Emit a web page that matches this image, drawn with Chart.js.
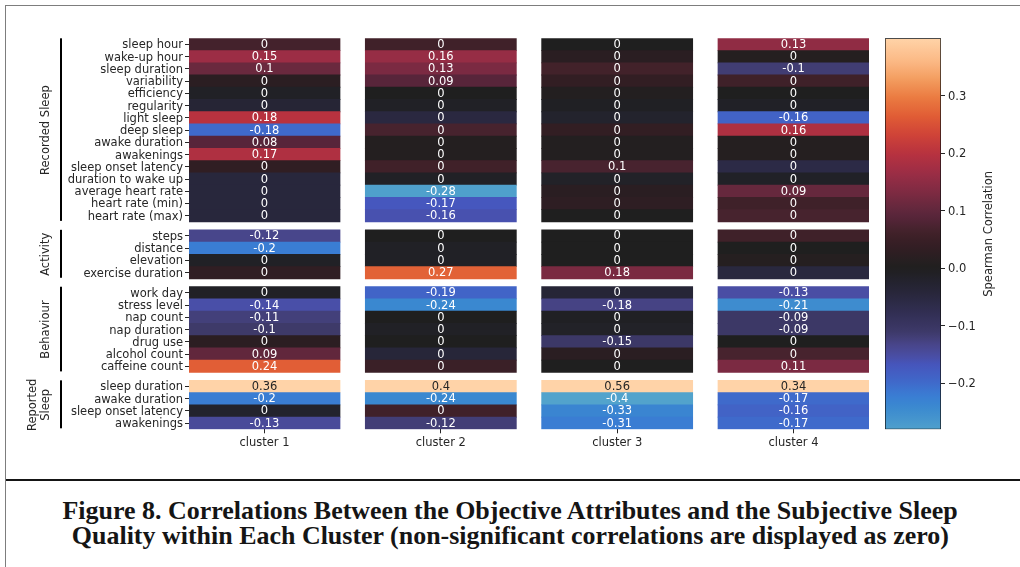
<!DOCTYPE html>
<html>
<head>
<meta charset="utf-8">
<script src="https://cdn.jsdelivr.net/npm/chart.js@4.4.1/dist/chart.umd.min.js"></script>
<style>
  html, body { margin: 0; padding: 0; background: #fff; }
  body { width: 1020px; height: 567px; position: relative; overflow: hidden; font-family: 'DejaVu Sans', sans-serif; }
  #frame { position: absolute; left: 5px; top: 5px; width: 1030px; height: 580px;
           border-top: 1.5px solid #7d7d7d; border-left: 1.5px solid #7d7d7d; }
  #rule { position: absolute; left: 6px; top: 479px; width: 1014px; height: 2px; background: #151515; }
  #heat { position: absolute; left: 0; top: 0; }
  #cbar { position: absolute; left: 860px; top: 0; }
  #caption { position: absolute; left: 0; top: 499px; width: 1020px; text-align: center;
             font: bold 25px 'Liberation Serif', serif; line-height: 24.5px; color: #151515; }
  #caption span { display: inline-block; white-space: nowrap; transform-origin: 50% 50%; }
</style>
</head>
<body>
<div id="frame"></div>
<canvas id="heat" width="880" height="470"></canvas>
<canvas id="cbar" width="160" height="470"></canvas>
<div id="rule"></div>
<div id="caption">
  <span id="cap1">Figure 8. Correlations Between the Objective Attributes and the Subjective Sleep</span><br>
  <span id="cap2">Quality within Each Cluster (non-significant correlations are displayed as zero)</span>
</div>
<script>
// ---- attributes (rows), grouped ----
const rowNames = [
  'sleep hour', 'wake-up hour', 'sleep duration', 'variability', 'efficiency', 'regularity',
  'light sleep', 'deep sleep', 'awake duration', 'awakenings', 'sleep onset latency',
  'duration to wake up', 'average heart rate', 'heart rate (min)', 'heart rate (max)',
  'steps', 'distance', 'elevation', 'exercise duration',
  'work day', 'stress level', 'nap count', 'nap duration', 'drug use', 'alcohol count', 'caffeine count',
  'sleep duration', 'awake duration', 'sleep onset latency', 'awakenings'
];
const groupLabels = [['Recorded Sleep'], ['Activity'], ['Behaviour'], ['Reported', 'Sleep']];
const groupSizes = [15, 4, 7, 4];
const clusters = ['cluster 1', 'cluster 2', 'cluster 3', 'cluster 4'];

// ---- Spearman correlation with subjective sleep quality, per cluster ----
const rho1 = [0.06, 0.15, 0.10, 0.02, -0.01, -0.03, 0.18, -0.18, 0.08, 0.17, 0.03, -0.04, -0.04, -0.04, -0.04,
              -0.12, -0.20, -0.01, 0.03,
              -0.01, -0.14, -0.11, -0.10, 0.02, 0.09, 0.24,
              0.36, -0.20, -0.02, -0.13];
const rho2 = [0.06, 0.16, 0.13, 0.09, 0.00, -0.01, -0.05, 0.07, 0.01, 0.01, 0.06, -0.01, -0.28, -0.17, -0.16,
              0.00, -0.01, -0.01, 0.27,
              -0.19, -0.24, 0.00, -0.01, 0.00, -0.04, 0.05,
              0.40, -0.24, 0.06, -0.12];
const rho3 = [0.00, 0.03, 0.09, 0.05, 0.01, -0.01, -0.03, 0.05, 0.01, 0.01, 0.10, -0.02, 0.03, 0.04, 0.00,
              0.00, 0.00, 0.00, 0.18,
              -0.05, -0.18, -0.01, -0.02, -0.15, 0.03, 0.00,
              0.56, -0.40, -0.33, -0.31];
const rho4 = [0.13, 0.01, -0.10, 0.05, 0.00, -0.01, -0.16, 0.16, 0.01, 0.01, -0.05, -0.01, 0.09, 0.05, 0.06,
              0.05, 0.00, 0.01, -0.04,
              -0.13, -0.21, -0.09, -0.09, 0.00, 0.06, 0.11,
              0.34, -0.17, -0.16, -0.17];
// 1 = significant correlation (annotated), 0 = annotated as zero
const sig1 = [0,1,1,0,0,0,1,1,1,1,0,0,0,0,0, 1,1,0,0, 0,1,1,1,0,1,1, 1,1,0,1];
const sig2 = [0,1,1,1,0,0,0,0,0,0,0,0,1,1,1, 0,0,0,1, 1,1,0,0,0,0,0, 1,1,0,1];
const sig3 = [0,0,0,0,0,0,0,0,0,0,1,0,0,0,0, 0,0,0,1, 0,1,0,0,1,0,0, 1,1,1,1];
const sig4 = [1,0,1,0,0,0,1,1,0,0,0,0,1,0,0, 0,0,0,0, 1,1,1,1,0,0,1, 1,1,1,1];
// colour bar ticks
const cbarTicks = [-0.2, -0.1, 0.0, 0.1, 0.2, 0.3];

const clusterRho = [rho1, rho2, rho3, rho4];
const clusterSig = [sig1, sig2, sig3, sig4];
const cbarCluster = 1;   // the colour bar shows the scale of cluster 2

const FONT = "11.5px 'DejaVu Sans', sans-serif";

// ---- diverging ice/fire colour map ----
const CMAP = [
  [0.000, '#bfe8dc'], [0.080, '#86cbd8'], [0.143, '#52a3cc'], [0.200, '#3a88d0'],
  [0.225, '#3a7cd3'], [0.250, '#3f6acb'], [0.290, '#4656bd'], [0.310, '#4a4da2'],
  [0.335, '#484589'], [0.360, '#3e3a6a'], [0.400, '#322f55'], [0.450, '#272639'],
  [0.500, '#1f1f1f'], [0.550, '#341e24'], [0.580, '#42222a'], [0.610, '#56253a'],
  [0.640, '#6b293e'], [0.670, '#812b43'], [0.710, '#9d2d45'], [0.750, '#b8323f'],
  [0.790, '#cf4338'], [0.830, '#e05c35'], [0.870, '#ea7a40'], [0.910, '#f39c5e'],
  [0.950, '#fbb985'], [1.000, '#ffd3a8']
];
const hexRgb = h => [1, 3, 5].map(i => parseInt(h.slice(i, i + 2), 16));
function cmapRgb(t) {
  t = Math.max(0, Math.min(1, t));
  for (let i = 1; i < CMAP.length; i++) {
    if (t <= CMAP[i][0]) {
      const [t0, c0] = CMAP[i - 1], [t1, c1] = CMAP[i];
      const f = (t - t0) / (t1 - t0), a = hexRgb(c0), b = hexRgb(c1);
      return a.map((v, j) => Math.round(v + (b[j] - v) * f));
    }
  }
  return hexRgb(CMAP[CMAP.length - 1][1]);
}
const rgbStr = c => `rgb(${c[0]},${c[1]},${c[2]})`;
// centred at zero, symmetric range set by the largest |rho| of each cluster
const clusterRange = clusterRho.map(a => Math.max(...a.map(Math.abs)));
const colourFor = (v, range) => cmapRgb(0.5 + v / (2 * range));
function luminance(c) {
  const l = c.map(v => { v /= 255; return v <= 0.03928 ? v / 12.92 : Math.pow((v + 0.055) / 1.055, 2.4); });
  return 0.2126 * l[0] + 0.7152 * l[1] + 0.0722 * l[2];
}
const annot = (v, s) => s ? String(Number(v.toPrecision(2))) : '0';

// ---- row layout on the value axis: groups separated by a gap ----
const GAP = 0.65;
const rowGroup = [];
groupSizes.forEach((n, g) => { for (let i = 0; i < n; i++) rowGroup.push(g); });
const rowTop = rowNames.map((_, r) => r + rowGroup[r] * GAP);
const totalRows = rowNames.length + (groupSizes.length - 1) * GAP;
const groupStart = groupSizes.map((_, g) => rowTop[rowGroup.indexOf(g)]);

const COL_FILL = 0.856;
const cells = [];
clusters.forEach((_, k) => {
  rowNames.forEach((_, r) => {
    const v = clusterRho[k][r];
    const rgb = colourFor(v, clusterRange[k]);
    cells.push({ x: k + 0.5, y: [rowTop[r], rowTop[r] + 1], rgb,
                 text: annot(v, clusterSig[k][r]), dark: luminance(rgb) > 0.408 });
  });
});

Chart.defaults.font.family = "'DejaVu Sans', sans-serif";
Chart.defaults.font.size = 11.5;
Chart.defaults.color = '#262626';

const cellText = {
  id: 'cellText',
  afterDatasetsDraw(chart) {
    const c = chart.ctx;
    c.save();
    c.font = FONT;
    c.textAlign = 'center';
    c.textBaseline = 'middle';
    chart.getDatasetMeta(0).data.forEach((bar, i) => {
      const p = bar.getProps(['x', 'y', 'base'], true);
      c.fillStyle = cells[i].dark ? '#262626' : '#ffffff';
      c.fillText(cells[i].text, p.x, (p.y + p.base) / 2 + 0.5);
    });
    c.restore();
  }
};

const groupDecor = {
  id: 'groupDecor',
  afterDraw(chart) {
    const c = chart.ctx, ys = chart.scales.y;
    c.save();
    groupSizes.forEach((n, g) => {
      const top = ys.getPixelForValue(groupStart[g]);
      const bot = ys.getPixelForValue(groupStart[g] + n);
      c.fillStyle = '#000';
      c.fillRect(60, top, 2, bot - top - 1);
      const lines = groupLabels[g];
      c.font = FONT;
      c.fillStyle = '#262626';
      c.textAlign = 'center';
      c.textBaseline = 'middle';
      lines.forEach((txt, i) => {
        c.save();
        c.translate(46.5 - (lines.length - 1 - i) * 13.5, (top + bot) / 2);
        c.rotate(-Math.PI / 2);
        c.fillText(txt, 0, 0);
        c.restore();
      });
    });
    c.restore();
  }
};

new Chart(document.getElementById('heat'), {
  type: 'bar',
  data: {
    datasets: [{
      data: cells.map(d => ({ x: d.x, y: d.y })),
      backgroundColor: cells.map(d => rgbStr(d.rgb)),
      borderWidth: 0,
      inflateAmount: 0.4,
      barPercentage: 1,
      categoryPercentage: COL_FILL
    }]
  },
  options: {
    responsive: false,
    animation: false,
    events: [],
    layout: { padding: { left: 0, right: 11, top: 38.3, bottom: 0 } },
    plugins: { legend: { display: false }, tooltip: { enabled: false } },
    scales: {
      x: {
        type: 'linear',
        offset: false,
        min: 0.5 - COL_FILL / 2,
        max: clusters.length - 0.5 + COL_FILL / 2,
        afterBuildTicks: s => { s.ticks = clusters.map((_, k) => ({ value: k + 0.5 })); },
        afterFit: s => { s.height = 40.7; },
        ticks: { callback: (v, i) => clusters[i], autoSkip: false, maxRotation: 0, padding: 3, color: '#262626' },
        grid: { drawOnChartArea: false, drawTicks: true, tickLength: 4, color: '#262626', offset: false },
        border: { display: false }
      },
      y: {
        type: 'linear',
        reverse: true,
        min: 0,
        max: totalRows,
        afterBuildTicks: s => { s.ticks = rowTop.map(t => ({ value: t + 0.5 })); },
        afterFit: s => { s.width = 189; },
        ticks: { callback: (v, i) => rowNames[i], autoSkip: false, padding: 2, labelOffset: 1, color: '#262626' },
        grid: { drawOnChartArea: false, drawTicks: true, tickLength: 4, color: '#262626' },
        border: { display: false }
      }
    }
  },
  plugins: [cellText, groupDecor]
});

// ---- colour bar ----
const cbRho = clusterRho[cbarCluster];
const cbMin = Math.min(...cbRho), cbMax = Math.max(...cbRho), cbRange = clusterRange[cbarCluster];
const cbTitle = {
  id: 'cbTitle',
  afterDraw(chart) {
    const c = chart.ctx, a = chart.chartArea;
    c.save();
    c.font = FONT;
    c.fillStyle = '#262626';
    c.textAlign = 'center';
    c.textBaseline = 'middle';
    c.translate(129, (a.top + a.bottom) / 2);
    c.rotate(-Math.PI / 2);
    c.fillText('Spearman Correlation', 0, 0);
    c.restore();
  }
};
new Chart(document.getElementById('cbar'), {
  type: 'bar',
  data: {
    labels: [''],
    datasets: [{
      data: [[cbMin, cbMax]],
      backgroundColor(ctx) {
        const a = ctx.chart.chartArea;
        if (!a) return '#888';
        const g = ctx.chart.ctx.createLinearGradient(0, a.bottom, 0, a.top);
        for (let i = 0; i <= 60; i++) {
          const t = i / 60;
          g.addColorStop(t, rgbStr(colourFor(cbMin + t * (cbMax - cbMin), cbRange)));
        }
        return g;
      },
      borderColor: '#111',
      borderWidth: 1,
      borderSkipped: false,
      barPercentage: 1,
      categoryPercentage: 1
    }]
  },
  options: {
    responsive: false,
    animation: false,
    events: [],
    layout: { padding: { left: 25, right: 0, top: 38.3, bottom: 40.7 } },
    plugins: { legend: { display: false }, tooltip: { enabled: false } },
    scales: {
      x: { display: false },
      y: {
        position: 'right',
        min: cbMin,
        max: cbMax,
        afterBuildTicks: s => { s.ticks = cbarTicks.map(v => ({ value: v })); },
        afterFit: s => { s.width = 79; },
        ticks: {
          autoSkip: false, padding: 3, labelOffset: 1, color: '#262626',
          callback: v => (v < -1e-9 ? '\u2212' : '') + Math.abs(v).toFixed(1)
        },
        grid: { drawOnChartArea: false, drawTicks: true, tickLength: 4, color: '#262626' },
        border: { display: false }
      }
    }
  },
  plugins: [cbTitle]
});

// caption lines: condensed bold serif
const cap1 = document.getElementById('cap1'), cap2 = document.getElementById('cap2');
const sx = 895 / cap1.offsetWidth;
cap1.style.transform = `scaleX(${sx})`;
cap2.style.transform = `scaleX(${sx})`;
</script>
</body>
</html>
